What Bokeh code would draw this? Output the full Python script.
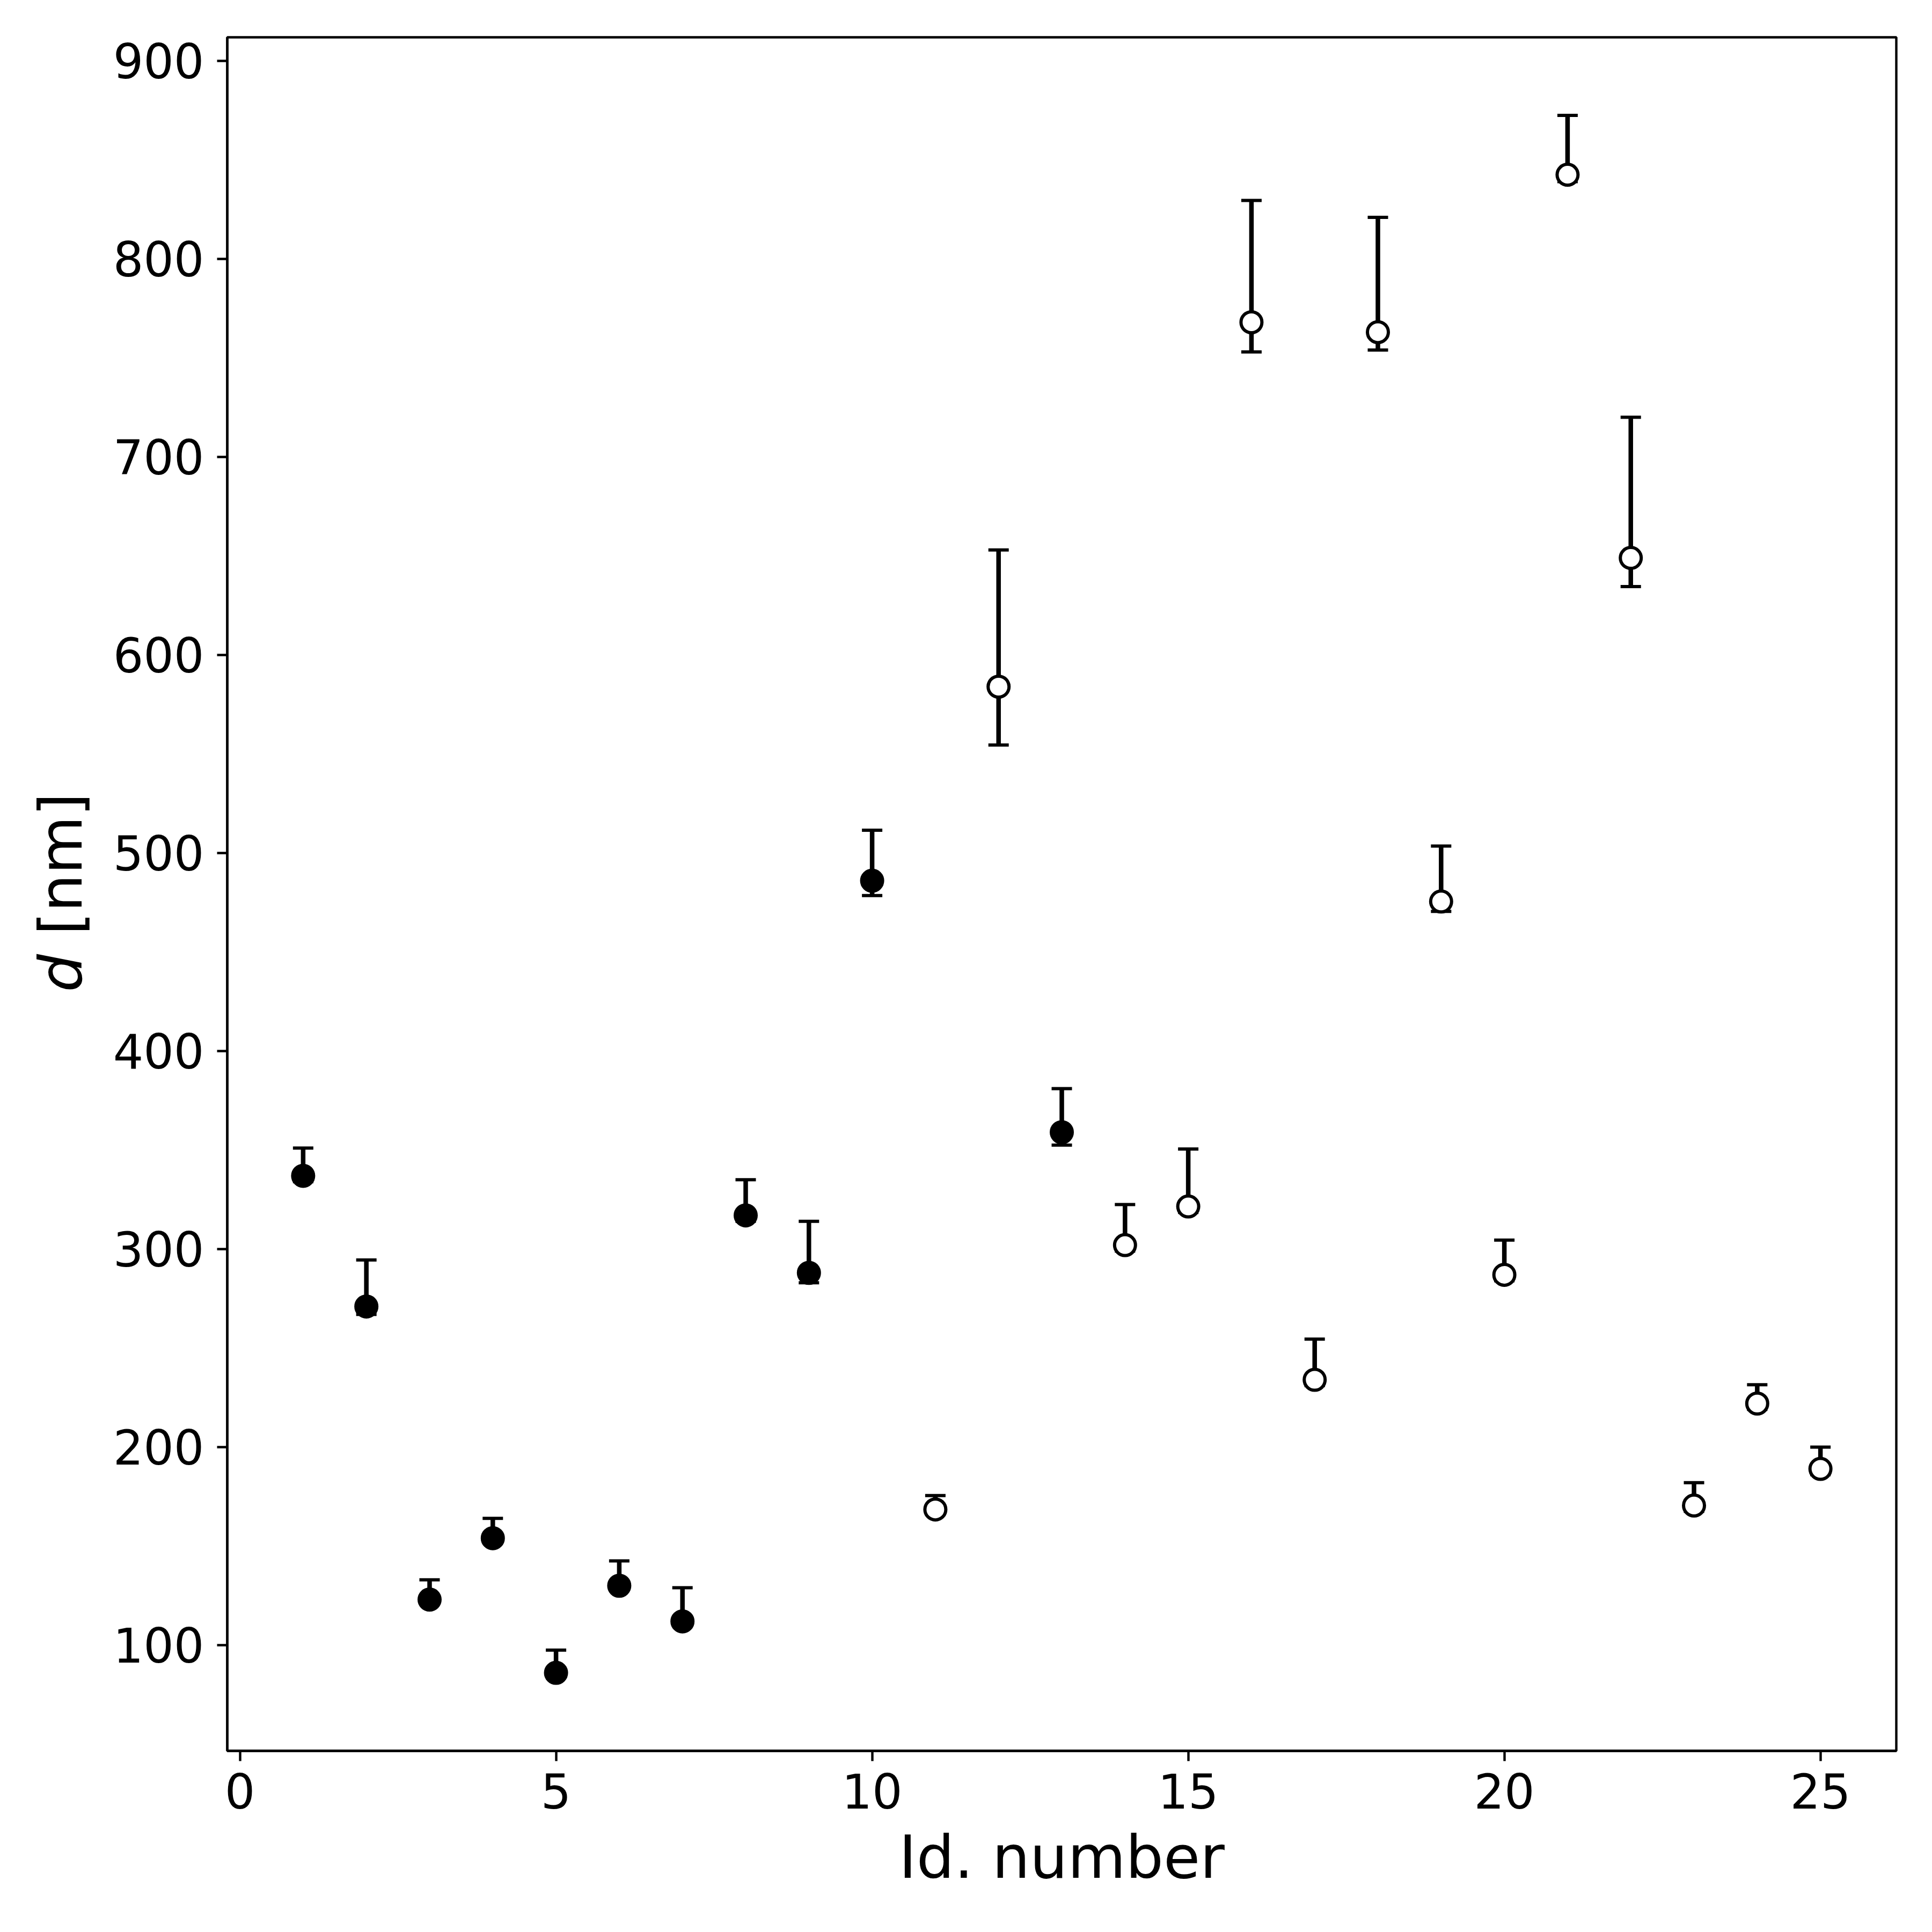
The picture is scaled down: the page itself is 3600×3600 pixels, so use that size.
from math import pi
from bokeh.plotting import figure
from bokeh.layouts import row
from bokeh.models import Range1d, FixedTicker, Label, ColumnDataSource
from bokeh.embed import file_html
from bokeh.resources import INLINE

# ---- data ----
ids = list(range(1, 26))
d = [337, 271, 123, 154, 86, 130, 112, 317, 288, 486, 168.5, 584, 359, 302, 321.5,
     768, 234, 763, 475.5, 287, 842.5, 649, 170.5, 222, 189]
err_plus = [14, 23.5, 10, 10, 11.5, 12.5, 17, 18, 26, 25.5, 7, 69, 22, 20.5, 29,
            61.5, 20.5, 58, 28, 17.5, 30, 71, 11.5, 9.5, 11]
err_minus = [3, 4, 2, 2, 0, 2, 2, 3, 5, 7.5, 2.5, 29.5, 6.5, 3, 3,
             15, 3, 9, 5, 3, 3.5, 14.5, 3, 3, 3]
filled = [True] * 10 + [False, False, True] + [False] * 12
x_ticks = [0, 5, 10, 15, 20, 25]
y_ticks = [100, 200, 300, 400, 500, 600, 700, 800, 900]

upper = [v + e for v, e in zip(d, err_plus)]
lower = [v - e for v, e in zip(d, err_minus)]
fill = ["black" if f else "white" for f in filled]

src = ColumnDataSource(dict(x=ids, d=d, upper=upper, lower=lower, fill=fill))

FONT = "DejaVu Sans"
H = 3584
LW = 200  # width of the strip that holds the y-axis title

p = figure(width=3584 - LW, height=H, output_backend="svg", toolbar_location=None,
           x_range=Range1d(-0.2, 26.2), y_range=Range1d(46.6, 911.9),
           min_border_left=423 - LW, min_border_right=51, min_border_top=69,
           min_border_bottom=322)
p.grid.visible = False
p.background_fill_color = "white"
p.border_fill_color = "white"
p.outline_line_color = "black"
p.outline_line_width = 4.4

for ax in (p.xaxis[0], p.yaxis[0]):
    ax.axis_line_color = "black"
    ax.axis_line_width = 4.4
    ax.major_tick_line_color = "black"
    ax.major_tick_line_width = 4.4
    ax.major_tick_out = 19
    ax.major_tick_in = 0
    ax.minor_tick_line_color = None
    ax.major_label_text_font = FONT
    ax.major_label_text_font_size = "89px"
    ax.major_label_text_color = "black"

p.xaxis.ticker = FixedTicker(ticks=x_ticks)
p.yaxis.ticker = FixedTicker(ticks=y_ticks)
p.xaxis.major_label_standoff = 22
p.yaxis.major_label_standoff = 24
p.xaxis.axis_label = "Id. number"
p.xaxis.axis_label_text_font = FONT
p.xaxis.axis_label_text_font_size = "111px"
p.xaxis.axis_label_text_font_style = "normal"
p.xaxis.axis_label_text_color = "black"
p.xaxis.axis_label_standoff = 23

# error bars
p.segment(x0="x", y0="lower", x1="x", y1="upper", source=src,
          line_color="black", line_width=8.5)
p.scatter(x="x", y="upper", source=src, marker="dash", size=38,
          line_color="black", line_width=6)
p.scatter(x="x", y="lower", source=src, marker="dash", size=38,
          line_color="black", line_width=6)
# markers
p.scatter(x="x", y="d", source=src, marker="circle", size=39,
          fill_color="fill", line_color="black", line_width=6)

# strip holding the y-axis title: italic "d" + "[nm]"
t = figure(width=LW, height=H, output_backend="svg", toolbar_location=None,
           x_axis_type=None, y_axis_type=None, min_border=0,
           x_range=Range1d(0, 1), y_range=Range1d(0, 1))
t.grid.visible = False
t.outline_line_color = None
t.background_fill_color = "white"
t.border_fill_color = "white"
t.add_layout(Label(x=113, y=1414, x_units="screen", y_units="screen", text="d",
                   angle=pi / 2, text_font=FONT, text_font_size="111px",
                   text_font_style="italic", text_align="left",
                   text_baseline="alphabetic", text_color="black"))
t.add_layout(Label(x=113, y=1520, x_units="screen", y_units="screen", text="[nm]",
                   angle=pi / 2, text_font=FONT, text_font_size="111px",
                   text_align="left", text_baseline="alphabetic", text_color="black"))

layout = row(t, p, spacing=0)
open("out.html", "w").write(file_html(layout, INLINE))
